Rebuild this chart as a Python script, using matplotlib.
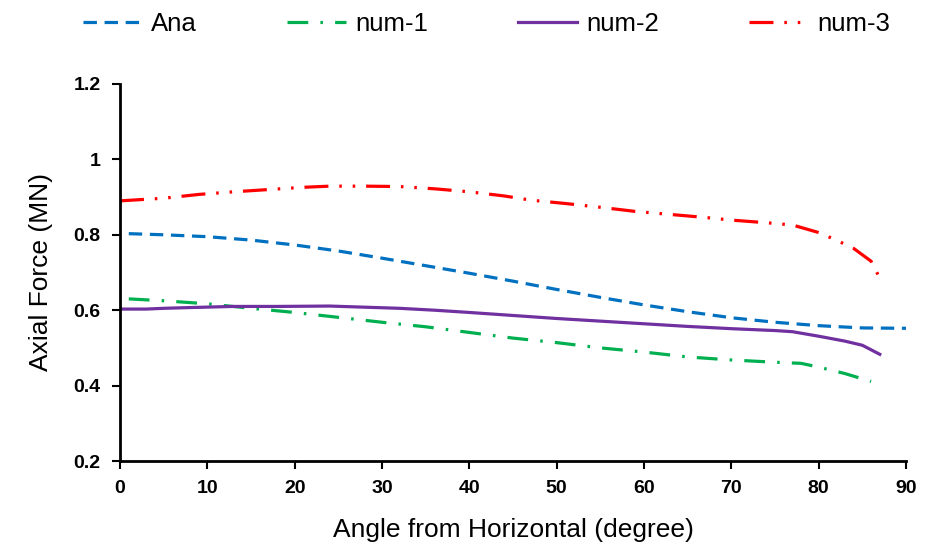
import matplotlib
matplotlib.use("Agg")
import matplotlib.pyplot as plt
from matplotlib import font_manager

# ---- data ----
ana_x = [1, 5, 10, 15, 20, 25, 30, 35, 40, 45, 50, 55, 60, 65, 70, 75, 80, 85, 90]
ana_y = [0.803, 0.800, 0.795, 0.786, 0.773, 0.757, 0.738, 0.718, 0.698, 0.677,
         0.655, 0.634, 0.614, 0.596, 0.580, 0.568, 0.559, 0.553, 0.552]

num1_x = [1, 5, 10, 15, 20, 25, 30, 35, 40, 45, 50, 55, 60, 65, 70, 75, 78, 80, 83, 86]
num1_y = [0.630, 0.625, 0.617, 0.605, 0.594, 0.581, 0.568, 0.556, 0.541, 0.526,
          0.514, 0.500, 0.489, 0.476, 0.468, 0.462, 0.459, 0.449, 0.432, 0.411]

num2_x = [0, 3, 5, 8, 13, 18, 24, 28, 32, 36, 40, 45, 50, 55, 60, 65, 70, 75, 77, 80, 83, 85, 87]
num2_y = [0.603, 0.603, 0.605, 0.607, 0.610, 0.610, 0.611, 0.608, 0.605, 0.600, 0.594,
          0.586, 0.578, 0.571, 0.564, 0.557, 0.551, 0.546, 0.543, 0.531, 0.518, 0.507, 0.483]

num3_x = [0, 5, 9, 13, 17, 21, 24, 28, 32, 36, 40, 44, 47, 51, 55, 59, 63, 67, 70, 74, 77, 80, 82, 84, 86, 87]
num3_y = [0.890, 0.897, 0.907, 0.914, 0.920, 0.926, 0.929, 0.929, 0.928, 0.922, 0.914,
          0.903, 0.892, 0.883, 0.873, 0.862, 0.854, 0.846, 0.839, 0.832, 0.826, 0.806,
          0.786, 0.764, 0.730, 0.685]

series_names = ["Ana", "num-1", "num-2", "num-3"]
x_ticks = [0, 10, 20, 30, 40, 50, 60, 70, 80, 90]
y_ticks = [0.2, 0.4, 0.6, 0.8, 1.0, 1.2]
y_tick_labels = ["0.2", "0.4", "0.6", "0.8", "1", "1.2"]
x_label = "Angle from Horizontal (degree)"
y_label = "Axial Force (MN)"

# ---- fonts ----
avail = {f.name for f in font_manager.fontManager.ttflist}
tick_font = ["Liberation Sans Narrow", "DejaVu Sans"] if "Liberation Sans Narrow" in avail else ["Liberation Sans", "DejaVu Sans"]
label_font = ["Liberation Sans", "DejaVu Sans"]

fig = plt.figure(figsize=(9.32, 5.5), dpi=100)
ax = fig.add_axes([0.1288, 0.1618, 0.9721 - 0.1288, 0.8473 - 0.1618])

lw = 2.3
l1, = ax.plot(ana_x, ana_y, color="#0070C0", lw=lw, dashes=(4.2, 2.4))
l2, = ax.plot(num1_x, num1_y, color="#00B050", lw=lw, dashes=(6.5, 3.8, 0.8, 3.8))
l3, = ax.plot(num2_x, num2_y, color="#7030A0", lw=lw)
l4, = ax.plot(num3_x, num3_y, color="#FF0000", lw=lw, dashes=(7.5, 3.4, 0.8, 3.4, 0.8, 3.4))

ax.set_xlim(0, 90)
ax.set_ylim(0.2, 1.2)
ax.set_xticks(x_ticks)
ax.set_yticks(y_ticks)
ax.set_yticklabels(y_tick_labels)

for s in ["top", "right"]:
    ax.spines[s].set_visible(False)
for s in ["left", "bottom"]:
    ax.spines[s].set_linewidth(2.0)
ax.tick_params(axis="both", direction="out", length=6, width=1.5, pad=8)
for lab in ax.get_xticklabels() + ax.get_yticklabels():
    lab.set_fontfamily(tick_font)
    lab.set_fontweight("bold")
    lab.set_fontsize(14)

ax.set_xlabel(x_label, fontsize=19, family=label_font, labelpad=15)
ax.set_ylabel(y_label, fontsize=19, family=label_font, labelpad=15)

leg = fig.legend([l1, l2, l3, l4], series_names, loc="center", bbox_to_anchor=(0.522, 0.956),
                 ncol=4, frameon=False, handlelength=2.3, handletextpad=0.35,
                 columnspacing=3.5, prop={"family": label_font, "size": 18.5})

fig.savefig("out.png", dpi=100)
